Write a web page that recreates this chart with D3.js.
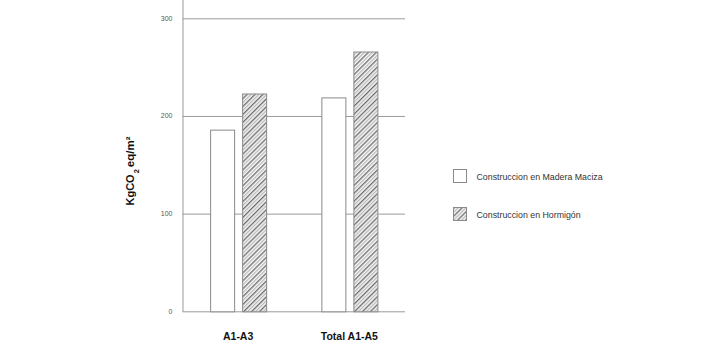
<!DOCTYPE html>
<html><head><meta charset="utf-8">
<script src="https://cdn.jsdelivr.net/npm/d3@7"></script>
<style>body{margin:0;background:#fff}svg{display:block}text{font-family:"Liberation Sans",Arial,sans-serif}</style>
</head><body>
<svg id="c" width="720" height="344"></svg>
<script>
const categories = ["A1-A3", "Total A1-A5"];
const seriesNames = ["Construccion en Madera Maciza", "Construccion en Hormigón"];
const madera = [186, 219];
const hormigon = [223, 266];
const yTicks = [0, 100, 200, 300];

const svg = d3.select("#c");
const defs = svg.append("defs");
const pat = defs.append("pattern").attr("id","hatch").attr("patternUnits","userSpaceOnUse")
  .attr("width",5.6).attr("height",5.6).attr("patternTransform","rotate(45)");
pat.append("rect").attr("width",5.6).attr("height",5.6).attr("fill","#f6f6f6");
pat.append("line").attr("x1",0.7).attr("y1",0).attr("x2",0.7).attr("y2",5.6).attr("stroke","#505050").attr("stroke-width",1.1);
pat.append("line").attr("x1",3.5).attr("y1",0).attr("x2",3.5).attr("y2",5.6).attr("stroke","#b0b0b0").attr("stroke-width",1.1);

const pLeft = 182.5, pRight = 405, pTop = 18.3, pBottom = 311.3;
const y = d3.scaleLinear().domain([0,300]).range([pBottom, pTop]);
const x0 = d3.scaleBand().domain(categories).range([pLeft, pRight]).padding(0);
const x1 = d3.scaleBand().domain(seriesNames).range([0, 56]).paddingInner(0.25).paddingOuter(0);

// gridlines
svg.append("g").selectAll("line").data(yTicks).join("line")
  .attr("x1", pLeft).attr("x2", pRight)
  .attr("y1", d => y(d) + 0.5).attr("y2", d => y(d) + 0.5)
  .attr("stroke", "#9a9a9a").attr("stroke-width", 1);
// y axis line
svg.append("line").attr("x1", pLeft + 0.5).attr("x2", pLeft + 0.5).attr("y1", 0).attr("y2", pBottom + 0.5)
  .attr("stroke", "#9a9a9a");
// tick labels
svg.append("g").selectAll("text").data(yTicks).join("text")
  .attr("x", 172.5).attr("y", d => y(d) + 2.5).attr("text-anchor","end")
  .attr("font-size", 7).attr("fill", "#555").text(d => d);

// bars
const data = categories.map((c,i) => [
  {cat:c, s:seriesNames[0], v:madera[i]},
  {cat:c, s:seriesNames[1], v:hormigon[i]}
]).flat();
svg.append("g").selectAll("rect").data(data).join("rect")
  .attr("x", d => x0(d.cat) + x0.bandwidth()/2 - 28 + x1(d.s) + 0.5)
  .attr("y", d => y(d.v) + 0.5)
  .attr("width", x1.bandwidth())
  .attr("height", d => y(0) - y(d.v))
  .attr("fill", d => d.s === seriesNames[0] ? "#fff" : "url(#hatch)")
  .attr("stroke", "#8a8a8a").attr("stroke-width", 1);

// category labels
svg.append("g").selectAll("text").data(categories).join("text")
  .attr("x", d => x0(d) + x0.bandwidth()/2).attr("y", 340)
  .attr("text-anchor","middle").attr("font-size", 10.5).attr("font-weight","bold")
  .attr("fill","#111").text(d => d);

// y label
const yl = svg.append("text").attr("transform","translate(134,171) rotate(-90)")
  .attr("text-anchor","middle").attr("font-weight","bold").attr("fill","#111");
yl.append("tspan").attr("font-size", 11).text("KgCO");
yl.append("tspan").attr("font-size", 7.5).attr("dx", 1).attr("dy", 4.5).text("2");
yl.append("tspan").attr("font-size", 11.5).attr("dx", 2).attr("dy", -4.5).text("eq/m²");

// legend
const lg = svg.append("g").selectAll("g").data(seriesNames).join("g")
  .attr("transform", (d,i) => `translate(453.5,${169.5 + i*38})`);
lg.append("rect").attr("width", 13).attr("height", 13)
  .attr("fill", (d,i) => i === 0 ? "#fff" : "url(#hatch)").attr("stroke","#8a8a8a");
lg.append("text").attr("x", 23).attr("y", 10).attr("font-size", 8.8).attr("fill","#333").text(d => d);
</script>
</body></html>
